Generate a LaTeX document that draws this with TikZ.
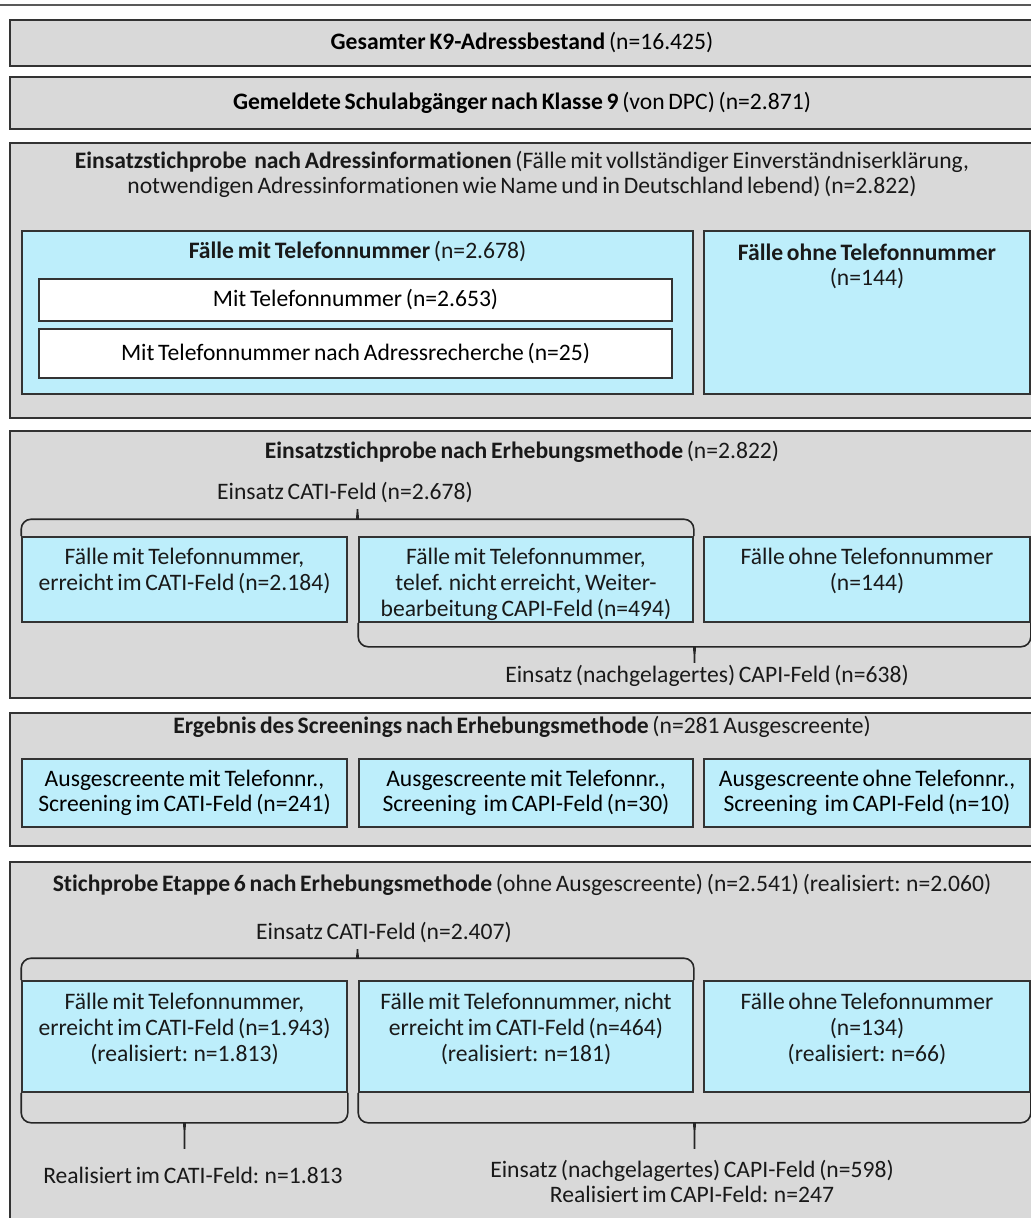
\documentclass[tikz,border=0pt]{standalone}
\usepackage{fontspec}
\setmainfont{Carlito}[WordSpace=0.7, Ligatures=NoCommon]
\usetikzlibrary{calc}
\definecolor{boxgray}{RGB}{217,217,217}
\definecolor{boxcyan}{RGB}{189,238,251}

\begin{document}
\begin{tikzpicture}[x=0.5pt, y=-0.5pt,
    font=\fontsize{11.8}{12.8}\selectfont,
    outer/.style={rectangle, draw=black!80, line width=0.9pt, fill=boxgray, minimum width=512pt, inner sep=0pt, align=center},
    cyanbox/.style={rectangle, draw=black!80, line width=0.8pt, fill=boxcyan, inner sep=0pt, align=center},
    whitebox/.style={rectangle, draw=black!80, line width=0.8pt, fill=white, minimum width=316.5pt, inner sep=0pt},
    txt/.style={align=center, inner sep=0pt, text=black!90},
    brace/.style={draw=black!85, line width=0.8pt}
]
    \useasboundingbox (0,0) rectangle (1031,1218);
    \clip (0,0) rectangle (1031,1218);

    % Rule on top
    \coordinate (topl) at (0,5);
    \coordinate (topr) at (1031,5);
    \draw[line width=1pt, black!65] (topl) -- (topr);

    % Box 1 and 2
    \node[outer, minimum height=23pt] (b1) at (522,43) {\textbf{Gesamter K9-Adressbestand} (n=16.425)};
    \node[outer, minimum height=26pt] (b2) at (522,103) {\textbf{Gemeldete Schulabgänger nach Klasse 9} (von DPC) (n=2.871)};

    % Box 3: Adressinformationen
    \node[outer, minimum height=137.5pt] (b3) at (522,280.5) {};
    \node[txt] (t3) at (522,174.5) {\textbf{Einsatzstichprobe\ \ nach Adressinformationen} (Fälle mit vollständiger Einverständniserklärung,\\
        notwendigen Adressinformationen wie Name und in Deutschland lebend) (n=2.822)};
    \node[cyanbox, minimum width=335.5pt, minimum height=81.5pt] (ca3) at (357.5,312.5) {};
    \node[txt] (ta3) at ($(ca3.north)+(0,21)$) {\textbf{Fälle mit Telefonnummer} (n=2.678)};
    \node[whitebox, minimum height=21pt] (wa3) at (355.5,300) {Mit Telefonnummer (n=2.653)};
    \node[whitebox, minimum height=24.5pt] (wb3) at (355.5,353.5) {Mit Telefonnummer nach Adressrecherche (n=25)};
    \node[cyanbox, minimum width=163pt, minimum height=81.5pt] (cb3) at (867,312.5) {};
    \node[txt, anchor=north] (tb3) at ($(cb3.north)+(0,13)$) {\textbf{Fälle ohne Telefonnummer}\\(n=144)};

    % Box 4: Erhebungsmethode
    \node[outer, minimum height=133.5pt] (b4) at (522,564.5) {};
    \node[txt] (t4) at (522,452) {\textbf{Einsatzstichprobe nach Erhebungsmethode} (n=2.822)};
    \node[cyanbox, minimum width=162.5pt, minimum height=42.5pt] (ca4) at (184.5,579.5) {};
    \node[cyanbox, minimum width=167pt, minimum height=42.5pt] (cb4) at (526,579.5) {};
    \node[cyanbox, minimum width=163pt, minimum height=42.5pt] (cc4) at (867,579.5) {};
    \node[txt, anchor=north] (ta4) at ($(ca4.north)+(0,12)$) {Fälle mit Telefonnummer,\\erreicht im CATI-Feld (n=2.184)};
    \node[txt, anchor=north] (tb4) at ($(cb4.north)+(0,12)$) {Fälle mit Telefonnummer,\\telef. nicht erreicht, Weiter-\\bearbeitung CAPI-Feld (n=494)};
    \node[txt, anchor=north] (tc4) at ($(cc4.north)+(0,12)$) {Fälle ohne Telefonnummer\\(n=144)};

    % braces: left half, right half, stem
    \coordinate (cati4) at ($(ca4.north west)!0.5!(cb4.north east)+(0,-27)$);
    \draw[brace] (ca4.north west) [rounded corners=5] |- ($(cati4)+(-9,10)$) [sharp corners]
        .. controls +(7,0) and +(0,7) .. (cati4)
        (cb4.north east) [rounded corners=5] |- ($(cati4)+(9,10)$) [sharp corners]
        .. controls +(-7,0) and +(0,7) .. (cati4);
    \node[txt] (lcati4) at (345,493) {Einsatz CATI-Feld (n=2.678)};

    \coordinate (capi4) at ($(cb4.south west)!0.5!(cc4.south east)+(0,40)$);
    \draw[brace] (cb4.south west) [rounded corners=5] |- ($(capi4)+(-9,-16)$) [sharp corners]
        .. controls +(7,0) and +(0,-6) .. ($(capi4)+(0,-6)$)
        (cc4.south east) [rounded corners=5] |- ($(capi4)+(9,-16)$) [sharp corners]
        .. controls +(-7,0) and +(0,-6) .. ($(capi4)+(0,-6)$) -- (capi4);
    \node[txt] (lcapi4) at (707,676) {Einsatz (nachgelagertes) CAPI-Feld (n=638)};

    % Box 5: Screening
    \node[outer, minimum height=66.5pt] (b5) at (522,779.5) {};
    \node[txt] (t5) at (522,727) {\textbf{Ergebnis des Screenings nach Erhebungsmethode} (n=281 Ausgescreente)};
    \node[cyanbox, minimum width=162.5pt, minimum height=34pt] (ca5) at (184.5,793) {Ausgescreente mit Telefonnr.,\\Screening im CATI-Feld (n=241)};
    \node[cyanbox, minimum width=167pt, minimum height=34pt] (cb5) at (526,793) {Ausgescreente mit Telefonnr.,\\Screening\ \ im CAPI-Feld (n=30)};
    \node[cyanbox, minimum width=163pt, minimum height=34pt] (cc5) at (867,793) {Ausgescreente ohne Telefonnr.,\\Screening\ \ im CAPI-Feld (n=10)};

    % Box 6: Stichprobe Etappe 6
    \node[outer, minimum height=184pt] (b6) at (522,1046) {};
    \node[txt] (t6) at (522,885) {\textbf{Stichprobe Etappe 6 nach Erhebungsmethode} (ohne Ausgescreente) (n=2.541) (realisiert: n=2.060)};
    \node[cyanbox, minimum width=162.5pt, minimum height=55.5pt] (ca6) at (184.5,1036.5) {};
    \node[cyanbox, minimum width=167pt, minimum height=55.5pt] (cb6) at (526,1036.5) {};
    \node[cyanbox, minimum width=163pt, minimum height=55.5pt] (cc6) at (867,1036.5) {};
    \node[txt, anchor=north] (ta6) at ($(ca6.north)+(0,13)$) {Fälle mit Telefonnummer,\\erreicht im CATI-Feld (n=1.943)\\(realisiert: n=1.813)};
    \node[txt, anchor=north] (tb6) at ($(cb6.north)+(0,13)$) {Fälle mit Telefonnummer, nicht\\erreicht im CATI-Feld (n=464)\\(realisiert: n=181)};
    \node[txt, anchor=north] (tc6) at ($(cc6.north)+(0,13)$) {Fälle ohne Telefonnummer\\(n=134)\\(realisiert: n=66)};

    \coordinate (cati6) at ($(ca6.north west)!0.5!(cb6.north east)+(0,-31)$);
    \draw[brace] (ca6.north west) [rounded corners=5] |- ($(cati6)+(-9,9)$) [sharp corners]
        .. controls +(7,0) and +(0,7) .. (cati6)
        (cb6.north east) [rounded corners=5] |- ($(cati6)+(9,9)$) [sharp corners]
        .. controls +(-7,0) and +(0,7) .. (cati6);
    \node[txt] (lcati6) at (384,932) {Einsatz CATI-Feld (n=2.407)};

    \coordinate (real6) at ($(ca6.south west)!0.5!(ca6.south east)+(0,56)$);
    \draw[brace] (ca6.south west) [rounded corners=5] |- ($(real6)+(-9,-26)$) [sharp corners]
        .. controls +(7,0) and +(0,-6) .. ($(real6)+(0,-16)$)
        (ca6.south east) [rounded corners=5] |- ($(real6)+(9,-26)$) [sharp corners]
        .. controls +(-7,0) and +(0,-6) .. ($(real6)+(0,-16)$) -- (real6);
    \node[txt] (lreal6) at (193,1175) {Realisiert im CATI-Feld: n=1.813};

    \coordinate (capi6) at ($(cb6.south west)!0.5!(cc6.south east)+(0,56)$);
    \draw[brace] (cb6.south west) [rounded corners=5] |- ($(capi6)+(-9,-26)$) [sharp corners]
        .. controls +(7,0) and +(0,-6) .. ($(capi6)+(0,-16)$)
        (cc6.south east) [rounded corners=5] |- ($(capi6)+(9,-26)$) [sharp corners]
        .. controls +(-7,0) and +(0,-6) .. ($(capi6)+(0,-16)$) -- (capi6);
    \node[txt] (lcapi6) at (692,1181.5) {Einsatz (nachgelagertes) CAPI-Feld (n=598)\\Realisiert im CAPI-Feld: n=247};
\end{tikzpicture}
\end{document}
